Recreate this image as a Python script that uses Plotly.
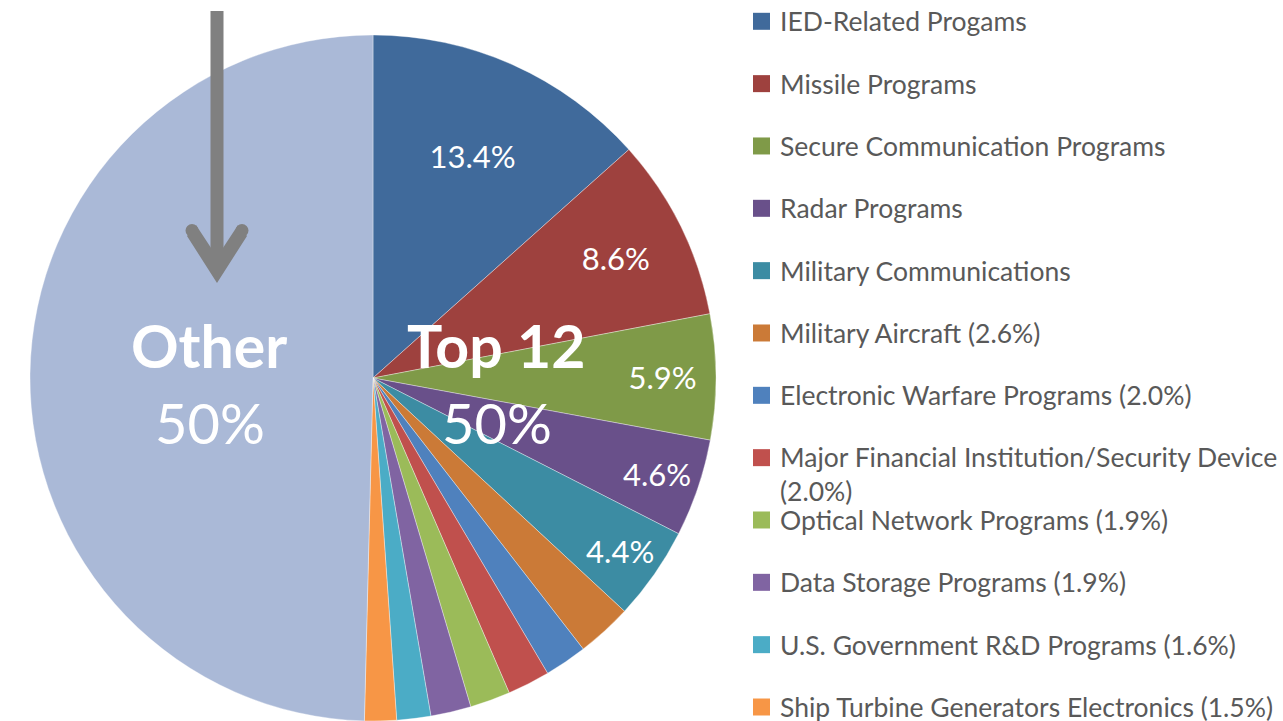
import plotly.graph_objects as go

W, H = 1283, 721

# ---- data ----
labels = [
    "IED-Related Progams",
    "Missile Programs",
    "Secure Communication Programs",
    "Radar Programs",
    "Military Communications",
    "Military Aircraft (2.6%)",
    "Electronic Warfare Programs (2.0%)",
    "Major Financial Institution/Security Device<br>(2.0%)",
    "Optical Network Programs (1.9%)",
    "Data Storage Programs (1.9%)",
    "U.S. Government R&D Programs (1.6%)",
    "Ship Turbine Generators Electronics (1.5%)",
]
values = [13.4, 8.6, 5.9, 4.6, 4.4, 2.6, 2.0, 2.0, 1.9, 1.9, 1.6, 1.5]
other_label = "Other"
other_value = 49.6
top_label = "Top 12"
n_labelled = 5  # slices that carry a % label on the pie

colors = ["#406A9B", "#9E413E", "#7F9A48", "#69508A", "#3C8CA3", "#CB7A37",
          "#4F81BD", "#C0504D", "#9BBB59", "#8064A2", "#4BACC6", "#F79646"]
other_color = "#AAB9D7"

# ---- figure ----
total = sum(values) + other_value
pie_text = [f"{v}%" if i < n_labelled else "" for i, v in enumerate(values)] + [""]

cx, cy, r = 373, 378, 343  # pixel geometry of the pie
fig = go.Figure()
fig.add_trace(go.Pie(
    labels=[lab.replace("<br>", " ") for lab in labels] + [other_label],
    values=values + [other_value],
    marker=dict(colors=colors + [other_color], line=dict(color="rgba(255,255,255,0.6)", width=0.6)),
    text=pie_text,
    textinfo="text",
    textposition="inside",
    insidetextorientation="horizontal",
    textfont=dict(family="Lato", size=31, color="white"),
    sort=False,
    direction="clockwise",
    rotation=0,
    showlegend=False,
    domain=dict(x=[(cx - r) / W, (cx + r) / W], y=[1 - (cy + r) / H, 1 - (cy - r) / H]),
))

# ---- legend, drawn as a scatter on a hidden axis (one row per category) ----
rows = list(range(len(labels)))
fig.add_trace(go.Scatter(
    x=[0] * len(labels), y=rows, mode="markers",
    marker=dict(symbol="square", size=17, color=colors, line=dict(width=0)),
    showlegend=False, hoverinfo="skip", cliponaxis=False,
))

leg_font = dict(family="Lato", size=26.5, color="#595959")
line_h = 1.25 * leg_font["size"]
annotations = []
for i, lab in enumerate(labels):
    n_lines = lab.count("<br>") + 1
    annotations.append(dict(
        text=lab, x=0, y=i, xref="x", yref="y", xanchor="left", yanchor="middle",
        align="left", xshift=16, yshift=-(n_lines - 1) * line_h / 2,
        showarrow=False, font=leg_font,
    ))

def px(x):
    return x / W

def py(y):
    return 1 - y / H

# arrow (decoration)
shapes = [
    dict(type="rect", xref="paper", yref="paper", x0=px(210.5), x1=px(223.5), y0=py(11), y1=py(262),
         fillcolor="#808080", line=dict(width=0)),
    dict(type="path", xref="paper", yref="paper",
         path=("M{},{} L{},{} L{},{} L{},{} L{},{} L{},{} Z".format(
             px(187), py(236), px(217), py(283), px(247), py(236),
             px(238), py(225), px(217), py(257), px(196), py(225))),
         fillcolor="#808080", line=dict(width=0)),
    dict(type="circle", xref="paper", yref="paper", x0=px(185.5), x1=px(198.5), y0=py(224), y1=py(237),
         fillcolor="#808080", line=dict(width=0)),
    dict(type="circle", xref="paper", yref="paper", x0=px(235.5), x1=px(248.5), y0=py(224), y1=py(237),
         fillcolor="#808080", line=dict(width=0)),
]

top_pct = round(sum(values) / total * 100)
other_pct = round(other_value / total * 100)
big = dict(family="Lato", color="white")
for text, x, y, size in [
    (f"<b>{other_label}</b>", 209, 345, 59),
    (f"{other_pct}%", 210, 422, 56),
    (f"<b>{top_label}</b>", 496, 345, 59),
    (f"{top_pct}%", 497, 422, 56),
]:
    annotations.append(dict(text=text, x=px(x), y=py(y), xref="paper", yref="paper",
                            showarrow=False, xanchor="center", yanchor="middle",
                            font=dict(size=size, **big)))

# legend axis geometry: marker column centre and row spacing in pixels
mark_x, first_y, last_y = 761.5, 21.3, 707
step = (last_y - first_y) / (len(labels) - 1)

fig.update_layout(
    width=W, height=H,
    margin=dict(l=0, r=0, t=0, b=0),
    paper_bgcolor="white", plot_bgcolor="rgba(0,0,0,0)",
    xaxis=dict(visible=False, range=[-mark_x, W - mark_x], domain=[0, 1], fixedrange=True),
    yaxis=dict(visible=False, range=[(H - first_y) / step, -first_y / step], domain=[0, 1], fixedrange=True),
    shapes=shapes,
    annotations=annotations,
    showlegend=False,
)

fig.write_html("out.html", config={"displayModeBar": False},
               post_script="document.body.style.margin='0px';")
